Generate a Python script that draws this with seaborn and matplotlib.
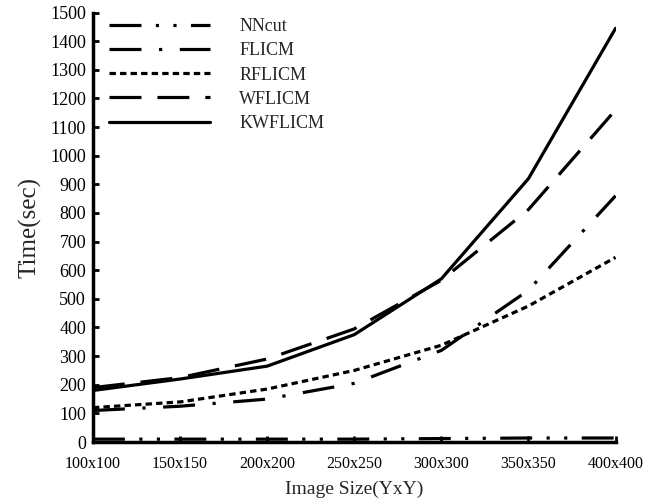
import matplotlib
matplotlib.use("Agg")
import matplotlib.pyplot as plt
import numpy as np
import pandas as pd
import seaborn as sns

sizes = ["100x100", "150x150", "200x200", "250x250", "300x300", "350x350", "400x400"]
nncut = [10, 10, 10, 10, 12, 14, 14]
flicm = [110, 125, 150, 205, 320, 530, 860]
rflicm = [120, 140, 185, 250, 338, 475, 645]
wflicm = [190, 225, 290, 395, 565, 812, 1160]
kwflicm = [180, 220, 265, 375, 570, 920, 1445]

methods = ["NNcut", "FLICM", "RFLICM", "WFLICM", "KWFLICM"]
series = [nncut, flicm, rflicm, wflicm, kwflicm]
dash_styles = {
    "NNcut": (10, 4.5, 1, 4.5, 1, 4.5),
    "FLICM": (10, 5.5, 1, 5.5),
    "RFLICM": (2, 1.3),
    "WFLICM": (10, 5),
    "KWFLICM": "",
}

df = pd.DataFrame(
    {
        "size": np.tile(np.arange(len(sizes)), len(methods)),
        "time": np.concatenate(series),
        "method": np.repeat(methods, len(sizes)),
    }
)

sns.set_style("ticks")
plt.rcParams["font.family"] = ["Liberation Serif", "DejaVu Serif"]

fig = plt.figure(figsize=(6.5, 5.04), dpi=100)
ax = fig.add_axes([0.143, 0.123, 0.804, 0.852])

sns.lineplot(
    data=df,
    x="size",
    y="time",
    hue="method",
    style="method",
    hue_order=methods,
    style_order=methods,
    palette=["black"] * len(methods),
    dashes=dash_styles,
    linewidth=2.3,
    ax=ax,
)

ax.set_xlim(0, len(sizes) - 1)
ax.set_ylim(0, 1500)
ax.set_xticks(range(len(sizes)))
ax.set_xticklabels(sizes)
ax.set_yticks(range(0, 1501, 100))
ax.tick_params(direction="in", width=2, length=4, colors="black")
ax.tick_params(axis="x", pad=10, labelsize=11.5)
ax.tick_params(axis="y", pad=5, labelsize=13)
for side in ["left", "bottom"]:
    ax.spines[side].set_linewidth(2.5)
    ax.spines[side].set_color("black")
sns.despine(ax=ax)

ax.set_xlabel("Image Size(YxY)", fontsize=14, labelpad=6)
ax.set_ylabel("Time(sec)", fontsize=18, labelpad=6)

ax.legend(
    loc="upper left",
    bbox_to_anchor=(0.0, 1.025),
    frameon=False,
    handlelength=5.6,
    handletextpad=1.6,
    fontsize=13,
    labelspacing=0.4,
)

fig.savefig("out.png", dpi=100)
